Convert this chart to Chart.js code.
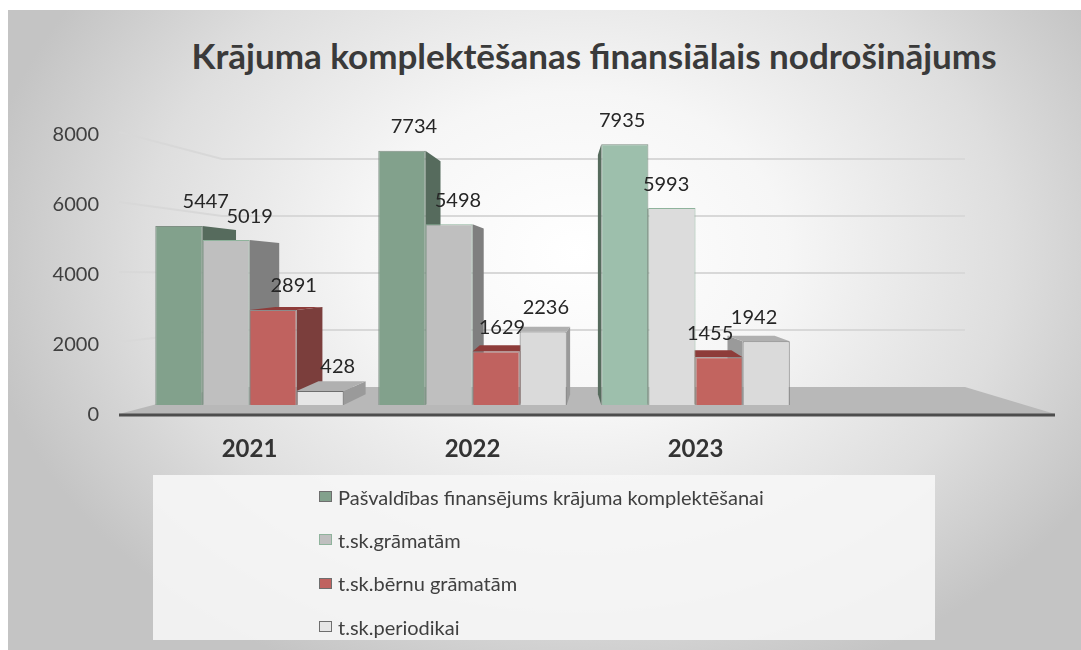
<!DOCTYPE html>
<html lang="lv">
<head>
  <meta charset="UTF-8">
  <title>Krājuma komplektēšanas finansiālais nodrošinājums</title>
  <script src="https://cdn.jsdelivr.net/npm/chart.js"></script>
  <style>
    body { margin: 0; background: #fff; font-family: Lato, sans-serif; }
    #wrap { position: relative; width: 1081px; height: 650px; overflow: hidden; }
    #frame {
      position: absolute; left: 8px; top: 10px; width: 1073px; height: 640px;
      background: radial-gradient(ellipse 56% 72% at 53% 38%, #ffffff 0%, #f6f6f6 35%, #dedede 72%, #c4c4c4 100%);
    }
    #title {
      position: absolute; left: 108px; width: 972px; top: 32px; line-height: 46px;
      text-align: center; font-weight: bold; font-size: 35px; color: #3a3a3a;
    }
    #chart { position: absolute; left: 0; top: 0; }
    #legend {
      position: absolute; left: 153px; top: 475px; width: 782px; height: 165px;
      background: rgba(246, 246, 246, 0.9);
    }
    .item { height: 43.3px; display: flex; align-items: center; padding-left: 166px; font-size: 20px; color: #404040; }
    .box { width: 11px; height: 9px; border: 1.5px solid #7f7f7f; margin-right: 6px; }
  </style>
</head>
<body>
  <div id="wrap">
    <div id="frame"></div>
    <div id="title">Krājuma komplektēšanas finansiālais nodrošinājums</div>
    <canvas id="chart" width="1081" height="650"></canvas>
    <div id="legend"></div>
  </div>

  <script>
    // data
    const years = ['2021', '2022', '2023', ''];
    const seriesNames = [
      'Pašvaldības finansējums krājuma komplektēšanai',
      't.sk.grāmatām',
      't.sk.bērnu grāmatām',
      't.sk.periodikai'
    ];
    const funding = [5447, 7734, 7935];
    const books = [5019, 5498, 5993];
    const childrenBooks = [2891, 1629, 1455];
    const periodicals = [428, 2236, 1942];
    const yTicks = [0, 2000, 4000, 6000, 8000];

    // colours
    const faceColors = [
      ['#82a18c', '#82a18c', '#9dbfac'],
      ['#bfbfbf', '#bfbfbf', '#dcdcdc'],
      ['#c0625f', '#c0625f', '#c2645f'],
      ['#e6e6e6', '#dadada', '#dadada']
    ];
    const edgeColors = ['#7f8f84', '#8fb39c', '#8c8c8c', '#6e6e6e'];
    const sideColors = ['#566b5d', '#7f7f7f', '#7b3e3c', '#9a9a9a'];
    const topColors = ['#5f7767', '#a6a6a6', '#8e3c3a', '#b0b0b0'];

    Chart.defaults.font.family = 'Lato';

    const K = 0.083; // depth of the fake 3d

    function depthOf(chart, b) {
      const a = chart.chartArea;
      const vx = (a.left + a.right) / 2, vy = (a.top + a.bottom) / 2;
      return {
        dx: (vx - b.x) * K,
        dt: (vy - b.y) * K,
        db: (vy - b.base) * K
      };
    }

    const depth = {
      id: 'depth',
      beforeDatasetsDraw(chart) {
        const { ctx, chartArea: a, scales } = chart;
        const y = scales.y, wall = scales.yWall;
        const front = y.getPixelForValue(0), back = wall.getPixelForValue(0);
        const fl = a.left - 19, fr = a.right + 25, bl = a.left + 84, br = a.right - 65;
        ctx.save();

        // back wall grid
        ctx.strokeStyle = '#d8d8d8';
        ctx.lineWidth = 2;
        yTicks.slice(1).forEach(v => {
          const yb = wall.getPixelForValue(v);
          ctx.beginPath();
          ctx.moveTo(fl, y.getPixelForValue(v) - 3);
          ctx.lineTo(bl, yb);
          ctx.lineTo(br, yb);
          ctx.stroke();
        });

        // floor
        ctx.fillStyle = '#b8b8b8';
        ctx.beginPath();
        ctx.moveTo(fl, front - 1);
        ctx.lineTo(bl, back);
        ctx.lineTo(br, back);
        ctx.lineTo(fr, front - 1);
        ctx.closePath();
        ctx.fill();
        ctx.strokeStyle = '#4d4d4d';
        ctx.lineWidth = 3;
        ctx.beginPath();
        ctx.moveTo(fl, front);
        ctx.lineTo(fr, front);
        ctx.stroke();

        // sides and tops, far ones first
        const bars = [];
        chart.data.datasets.forEach((ds, i) => {
          chart.getDatasetMeta(i).data.forEach(b => bars.push({ b, i }));
        });
        const vx = (a.left + a.right) / 2;
        bars.sort((p, q) => Math.abs(q.b.x - vx) - Math.abs(p.b.x - vx));
        bars.forEach(({ b, i }) => {
          const l = b.x - b.width / 2, r = b.x + b.width / 2;
          const { dx, dt, db } = depthOf(chart, b);
          const sx = dx > 0 ? r : l;
          ctx.fillStyle = sideColors[i];
          ctx.beginPath();
          ctx.moveTo(sx, b.y);
          ctx.lineTo(sx + dx, b.y + dt);
          ctx.lineTo(sx + dx, b.base + db);
          ctx.lineTo(sx, b.base);
          ctx.closePath();
          ctx.fill();
          if (dt < 0) {
            ctx.fillStyle = topColors[i];
            ctx.beginPath();
            ctx.moveTo(l, b.y);
            ctx.lineTo(r, b.y);
            ctx.lineTo(r + dx, b.y + dt);
            ctx.lineTo(l + dx, b.y + dt);
            ctx.closePath();
            ctx.fill();
          }
        });
        ctx.restore();
      },
      afterDatasetsDraw(chart) {
        const { ctx } = chart;
        ctx.save();
        ctx.font = '20px Lato';
        ctx.fillStyle = '#262626';
        ctx.textAlign = 'center';
        ctx.textBaseline = 'middle';
        chart.data.datasets.forEach((ds, i) => {
          chart.getDatasetMeta(i).data.forEach((b, j) => {
            const { dx } = depthOf(chart, b);
            ctx.fillText(ds.data[j], b.x + dx * 0.8, b.y - 24);
          });
        });
        ctx.restore();
      }
    };

    const series = [funding, books, childrenBooks, periodicals];

    const chart = new Chart(document.getElementById('chart'), {
      type: 'bar',
      data: {
        labels: years,
        datasets: series.map((d, i) => ({
          label: seriesNames[i],
          data: d,
          yAxisID: 'yBar',
          backgroundColor: faceColors[i],
          borderColor: edgeColors[i],
          borderWidth: 1,
          categoryPercentage: 0.845,
          barPercentage: 1
        }))
      },
      options: {
        responsive: false,
        animation: false,
        layout: { padding: { top: 135, bottom: 175, left: 0, right: 51 } },
        plugins: {
          legend: { display: false },
          tooltip: { enabled: false }
        },
        scales: {
          x: {
            grid: { display: false, drawTicks: false },
            border: { display: false },
            ticks: { font: { size: 24, weight: 'bold' }, color: '#333333', padding: 20 },
            afterFit(s) { s.height = 60; }
          },
          y: {
            min: 0,
            max: 8000,
            afterBuildTicks(s) { s.ticks = yTicks.map(v => ({ value: v })); },
            ticks: {
              font: { size: 20 },
              color: '#404040',
              padding: 39,
              callback: v => String(v)
            },
            grid: { display: false, drawTicks: false },
            border: { display: false },
            afterFit(s) { s.width = 138; }
          },
          yBar: { display: false, min: -304, max: 8216 },
          yWall: { display: false, min: -982, max: 8843 }
        }
      },
      plugins: [depth]
    });

    // legend, one item per row
    const legend = document.getElementById('legend');
    chart.data.datasets.forEach((ds, i) => {
      const row = document.createElement('div');
      row.className = 'item';
      const box = document.createElement('span');
      box.className = 'box';
      box.style.background = faceColors[i][0];
      box.style.borderColor = i === 1 ? edgeColors[1] : '#6e6e6e';
      row.appendChild(box);
      row.appendChild(document.createTextNode(ds.label));
      legend.appendChild(row);
    });
  </script>
</body>
</html>
